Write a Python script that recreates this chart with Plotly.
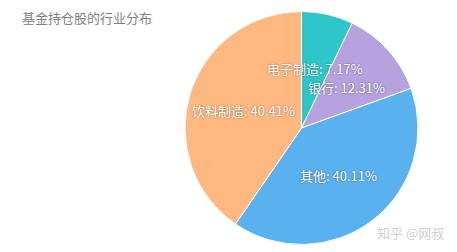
import math
import plotly.graph_objects as go

categories = ["电子制造", "银行", "其他", "饮料制造"]
values = [7.17, 12.31, 40.11, 40.41]
colors = ["#2EC7C9", "#B6A2DE", "#5AB1EF", "#FFB980"]
title_text = "基金持仓股的行业分布"
watermark = "知乎 @网叔"

W, H = 457, 252
cx_px, cy_px, r_px = 301.5, 128.0, 116.5
dom_x = [(cx_px - r_px) / W, (cx_px + r_px) / W]
dom_y = [1 - (cy_px + r_px) / H, 1 - (cy_px - r_px) / H]

fig = go.Figure()
fig.add_trace(go.Pie(
    labels=categories, values=values, sort=False, direction="clockwise",
    rotation=0, marker=dict(colors=colors, line=dict(color="white", width=1)),
    textinfo="none", hoverinfo="label+percent", showlegend=False,
    domain=dict(x=dom_x, y=dom_y),
))

# inside labels at half radius along mid-angle (derived from data)
total = sum(values)
cum = 0.0
for lab, v in zip(categories, values):
    mid = (cum + v / 2) / total * 2 * math.pi
    cum += v
    px = cx_px + 0.52 * r_px * math.sin(mid)
    py = cy_px - 0.52 * r_px * math.cos(mid)
    fig.add_annotation(
        x=px / W, y=1 - py / H, xref="paper", yref="paper",
        xanchor="center", yanchor="middle",
        text=f"{lab}: {v / total * 100:.2f}%", showarrow=False,
        font=dict(family="Noto Sans CJK SC", size=13, color="white",
                  shadow="0px 0px 2px rgba(0,0,0,0.55)"),
    )

fig.add_annotation(x=20 / W, y=1 - 18 / H, xref="paper", yref="paper",
                   xanchor="left", yanchor="middle", text=title_text, showarrow=False,
                   font=dict(family="Noto Sans CJK SC", size=13, color="#808080"))
fig.add_annotation(x=410 / W, y=1 - 232 / H, xref="paper", yref="paper",
                   xanchor="center", yanchor="middle", text=watermark, showarrow=False,
                   font=dict(family="Noto Sans CJK SC", size=13, color="rgba(200,200,200,0.9)"))

fig.update_layout(width=W, height=H, margin=dict(l=0, r=0, t=0, b=0),
                  paper_bgcolor="white", plot_bgcolor="white")
fig.write_html("out.html")
